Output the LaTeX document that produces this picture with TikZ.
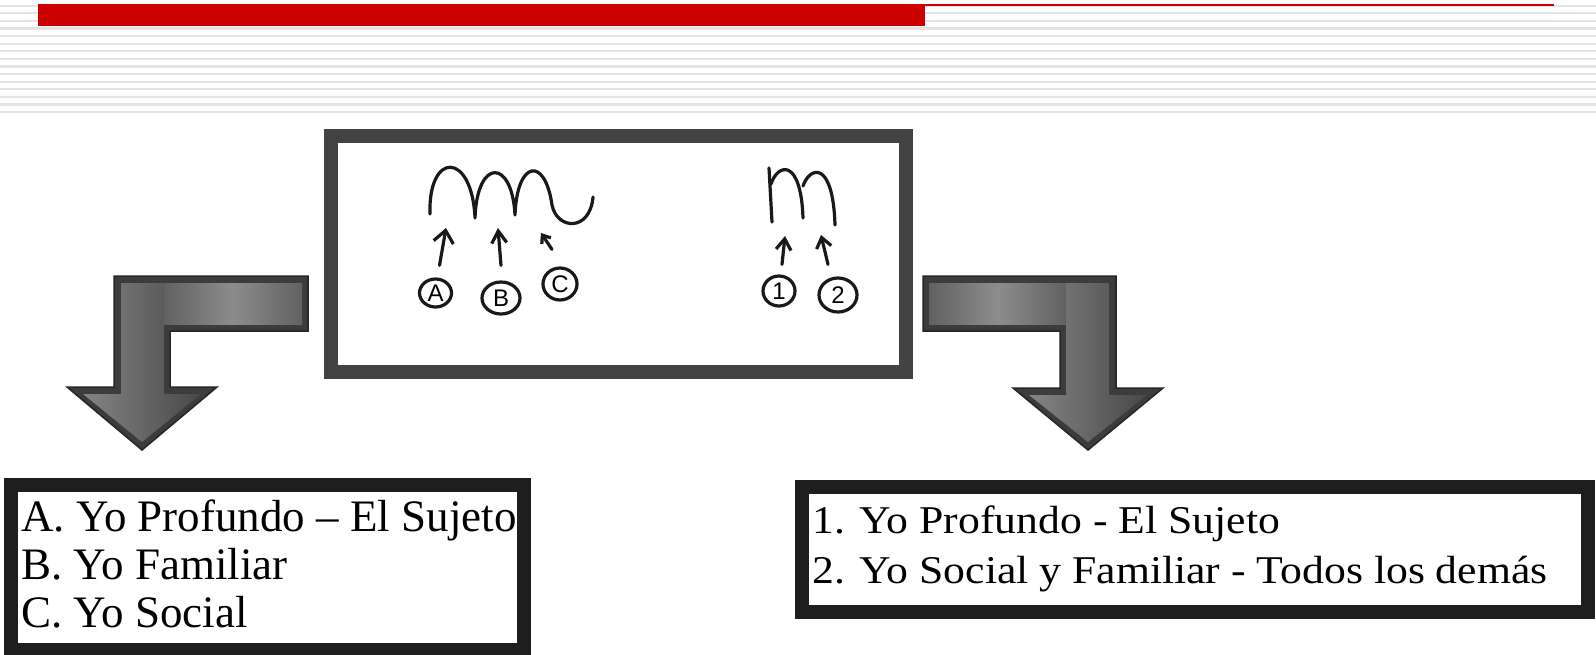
\documentclass[tikz,border=0pt]{standalone}
\usepackage{fontspec}
\setmainfont{Liberation Serif}
\newfontfamily\handfont{Liberation Sans}
\usetikzlibrary{arrows.meta,shapes.geometric}
\definecolor{hdrred}{HTML}{CC0000}
\definecolor{stripecol}{HTML}{E4E4E4}
\definecolor{framecenter}{HTML}{434343}
\definecolor{framebottom}{HTML}{1E1E1E}
\definecolor{arrowdark}{HTML}{3C3C3C}
\begin{document}
\begin{tikzpicture}[x=1pt,y=-1pt,
  hand/.style={line width=3.2pt, line cap=round, line join=round, draw=black!90},
  ring/.style={ellipse, draw=black!90, line width=3.2pt, inner sep=0pt,
    font=\handfont\fontsize{24}{24}\selectfont},
  centerframe/.style={draw=framecenter, line width=14pt, inner sep=0pt, fill=white},
  bottomframe/.style={draw=framebottom, line width=14pt, inner sep=0pt, fill=white},
  leftlabel/.style={anchor=base west, inner sep=0pt, font=\fontsize{45}{48}\selectfont},
  rightlabel/.style={anchor=base west, inner sep=0pt, font=\fontsize{43.7}{48}\selectfont},
  bentouter/.style={fill=arrowdark, draw=black!85, line width=1.5pt, line join=miter},
  bentbar/.style={left color=black!62, right color=black!62, middle color=black!45},
  bentstem/.style={left color=black!48, right color=black!72},
]
\useasboundingbox (0,0) rectangle (1596,654);
\fill[white] (0,0) rectangle (1596,654);
% header stripes
\foreach \k in {0,...,14}
  \draw[stripecol, line width=2.2pt] (0,{5.7+7.6*\k}) -- (1596,{5.7+7.6*\k});
\draw[hdrred, line width=2.4pt] (38,5.2) -- (1554,5.2);
\fill[hdrred] (38,5.2) rectangle (925,25.7);

% central box
\node[centerframe, minimum width=575pt, minimum height=236pt] (centerbox) at (618.5,254) {};

% big m (left handwriting)
\draw[hand] (430,214) .. controls (428,151) and (472,151) .. (475,218)
  .. controls (477,158) and (512,158) .. (515,215)
  .. controls (517,160) and (545,156) .. (552,205)
  .. controls (557,230) and (590,232) .. (593,197);
% small m (right handwriting)
\draw[hand] (772,222) -- (769,168);
\draw[hand] (771,184) .. controls (778,163) and (801,158) .. (803,218);
\draw[hand] (803,186) .. controls (810,166) and (833,160) .. (835,225);

% circled labels
\node[ring, minimum width=32pt, minimum height=28pt] (cA) at (435.5,293) {A};
\node[ring, minimum width=38pt, minimum height=32pt] (cB) at (501,298) {B};
\node[ring, minimum width=34pt, minimum height=32pt] (cC) at (560,284) {C};
\node[ring, minimum width=32pt, minimum height=30pt] (c1) at (779,291) {1};
\node[ring, minimum width=38pt, minimum height=34pt] (c2) at (838,295) {2};

% small hand-drawn arrows
\coordinate (tA) at (446,228);
\coordinate (tB) at (498,228);
\coordinate (tC) at (541,233);
\coordinate (t1) at (785,236);
\coordinate (t2) at (821,235);
\draw[hand, -{Straight Barb[length=12pt,width=20pt]}] (cA.north) ++(4,-12) -- (tA);
\draw[hand, -{Straight Barb[length=12pt,width=15pt]}] (cB.north) ++(0,-15) -- (tB);
\draw[hand, -{Straight Barb[length=7pt,width=11pt]}] (cC.north) ++(-8,-17) -- (tC);
\draw[hand, -{Straight Barb[length=11pt,width=15pt]}] (c1.north) ++(3,-10) -- (t1);
\draw[hand, -{Straight Barb[length=10pt,width=15pt]}] (c2.north) ++(-10,-12) -- (t2);

% left bent arrow
\path[bentouter] (308,276) -- (114,276) -- (114,387) -- (67,387) -- (142,450)
  -- (217,387) -- (170,387) -- (170,331) -- (308,331) -- cycle;
\shade[bentbar] (164,283) rectangle (302,324);
\shade[bentstem] (121,283) -- (164,283) -- (164,394) -- (201,394) -- (142,442)
  -- (83,394) -- (121,394) -- cycle;
% right bent arrow
\path[bentouter] (923,276) -- (1116,276) -- (1116,388) -- (1163,388) -- (1088,450)
  -- (1013,388) -- (1060,388) -- (1060,331) -- (923,331) -- cycle;
\shade[bentbar] (929,283) rectangle (1066,324);
\shade[bentstem] (1066,283) -- (1109,283) -- (1109,395) -- (1147,395) -- (1088,442)
  -- (1029,395) -- (1066,395) -- cycle;

% bottom left box
\node[bottomframe, minimum width=513pt, minimum height=165pt] (leftbox) at (267.5,567.5) {};
\node[leftlabel] (la) at (21,531) {A. Yo Profundo – El Sujeto};
\node[leftlabel] (lb) at (21,579) {B. Yo Familiar};
\node[leftlabel] (lc) at (21,627) {C. Yo Social};

% bottom right box
\node[bottomframe, minimum width=786pt, minimum height=125pt] (rightbox) at (1195,549.5) {};
\node[rightlabel] (r1) at (812,533) {\scalebox{1}[0.9]{1. Yo Profundo - El Sujeto}};
\node[rightlabel] (r2) at (812,583) {\scalebox{1}[0.9]{2. Yo Social y Familiar - Todos los demás}};
\end{tikzpicture}
\end{document}
